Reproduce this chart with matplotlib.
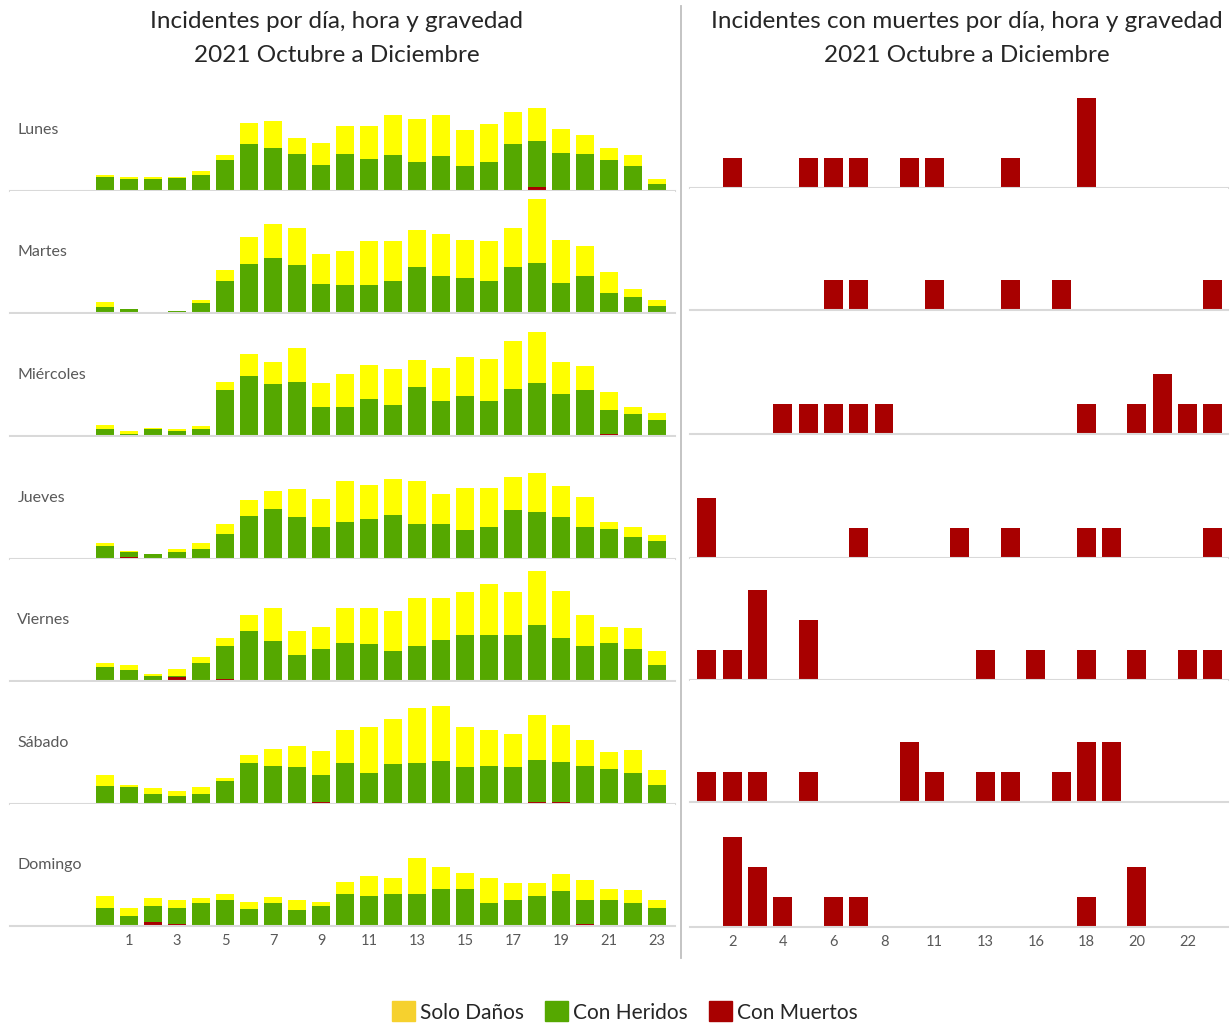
import numpy as np
import matplotlib
matplotlib.use("Agg")
import matplotlib.pyplot as plt
from matplotlib.patches import Patch
from matplotlib.lines import Line2D

plt.rcParams['font.family'] = ['Lato', 'DejaVu Sans']

# Data: counts per hour (0..23) and weekday
dias = ['Lunes', 'Martes', 'Miércoles', 'Jueves', 'Viernes', 'Sábado', 'Domingo']
horas = list(range(24))

solo_danos = {
    'Lunes':     [1, 2, 2, 1, 4, 4, 18, 22, 13, 18, 23, 27, 33, 36, 34, 30, 32, 27, 27, 20, 16, 10, 9, 4],
    'Martes':    [4, 0, 0, 0, 3, 9, 22, 28, 31, 25, 29, 37, 33, 31, 35, 32, 33, 33, 53, 36, 25, 17, 7, 5],
    'Miércoles': [3, 2, 1, 2, 2, 7, 18, 19, 28, 20, 28, 28, 30, 22, 28, 33, 35, 40, 43, 27, 20, 15, 6, 6],
    'Jueves':    [2, 1, 0, 2, 5, 8, 13, 15, 23, 23, 34, 29, 30, 36, 25, 35, 32, 27, 33, 26, 25, 6, 9, 5],
    'Viernes':   [3, 4, 2, 6, 5, 7, 13, 28, 20, 18, 29, 30, 33, 40, 35, 36, 43, 36, 45, 39, 26, 13, 17, 12],
    'Sábado':    [9, 2, 5, 4, 6, 3, 7, 14, 17, 20, 28, 38, 38, 46, 46, 33, 30, 27, 37, 31, 21, 14, 19, 12],
    'Domingo':   [10, 7, 6, 7, 4, 5, 6, 5, 9, 3, 10, 17, 13, 30, 18, 13, 21, 14, 11, 14, 16, 9, 11, 7],
}

con_heridos = {
    'Lunes':     [12, 10, 9, 11, 13, 25, 38, 35, 31, 21, 31, 26, 30, 24, 28, 21, 24, 39, 39, 32, 31, 26, 21, 6],
    'Martes':    [5, 3, 1, 2, 8, 27, 40, 45, 40, 24, 23, 22, 27, 38, 30, 29, 27, 37, 42, 25, 31, 17, 13, 5],
    'Miércoles': [6, 2, 6, 4, 5, 37, 49, 42, 44, 24, 24, 31, 26, 41, 29, 33, 29, 39, 43, 35, 37, 20, 17, 12],
    'Jueves':    [11, 4, 4, 6, 8, 21, 36, 41, 35, 27, 31, 33, 36, 29, 28, 24, 27, 41, 38, 34, 27, 25, 18, 14],
    'Viernes':   [12, 8, 3, 1, 15, 27, 42, 33, 22, 27, 32, 31, 25, 28, 34, 38, 37, 38, 46, 36, 28, 32, 26, 12],
    'Sábado':    [15, 13, 7, 6, 8, 18, 34, 32, 31, 22, 34, 25, 33, 33, 35, 31, 32, 30, 35, 33, 32, 29, 26, 16],
    'Domingo':   [15, 8, 14, 13, 18, 22, 13, 18, 13, 17, 27, 25, 27, 27, 31, 31, 19, 22, 24, 29, 20, 22, 19, 15],
}

con_muertos = {
    'Lunes':     [0, 0, 1, 0, 0, 1, 1, 1, 0, 1, 0, 1, 0, 0, 1, 0, 0, 0, 3, 0, 0, 0, 0, 0],
    'Martes':    [0, 0, 0, 0, 0, 0, 1, 1, 0, 0, 0, 1, 0, 0, 1, 0, 0, 1, 0, 0, 0, 0, 0, 1],
    'Miércoles': [0, 0, 0, 0, 1, 1, 1, 1, 1, 0, 0, 0, 0, 0, 0, 0, 0, 0, 1, 0, 1, 2, 1, 1],
    'Jueves':    [0, 2, 0, 0, 0, 0, 0, 1, 0, 0, 0, 0, 1, 0, 1, 0, 0, 0, 1, 1, 0, 0, 0, 1],
    'Viernes':   [0, 1, 1, 3, 0, 2, 0, 0, 0, 0, 0, 0, 0, 1, 0, 0, 1, 0, 1, 0, 1, 0, 1, 1],
    'Sábado':    [0, 1, 1, 1, 0, 1, 0, 0, 0, 2, 0, 1, 0, 1, 1, 0, 0, 1, 2, 2, 0, 0, 0, 0],
    'Domingo':   [0, 0, 3, 2, 1, 0, 1, 1, 0, 0, 0, 0, 0, 0, 0, 0, 0, 0, 1, 0, 2, 0, 0, 0],
}

AMARILLO = '#FFFF00'
VERDE = '#55A800'
ROJO = '#A80000'
AMARILLO_LEY = '#F6D12E'
GRIS_LINEA = '#D9D9D9'
GRIS_TEXTO = '#595959'

W, H = 1230, 1023
fig = plt.figure(figsize=(W / 100, H / 100), dpi=100)


def px_axes(x0, y_top, x1, y_bot):
    return fig.add_axes([x0 / W, 1 - y_bot / H, (x1 - x0) / W, (y_bot - y_top) / H])


def limpiar(ax):
    for s in ['top', 'right', 'left']:
        ax.spines[s].set_visible(False)
    ax.spines['bottom'].set_color(GRIS_LINEA)
    ax.spines['bottom'].set_linewidth(1.5)
    ax.set_yticks([])
    ax.tick_params(axis='x', length=0, labelsize=10.5, labelcolor=GRIS_TEXTO, pad=6)


# row baselines in pixels (left / right panels)
base_izq = [191, 313, 436, 559, 681, 804, 926]
base_der = [188, 310, 434, 558, 680, 802, 927]
alto = 122

# right panel categories: hours with at least one fatal incident
cats = [h for h in horas if any(con_muertos[d][h] > 0 for d in dias)]
xc = np.arange(len(cats))

for i, d in enumerate(dias):
    # Left: all incidents stacked by severity
    ax = px_axes(10, base_izq[i] - alto, 675, base_izq[i])
    m = np.array(con_muertos[d])
    h = np.array(con_heridos[d])
    s = np.array(solo_danos[d])
    ax.bar(horas, m, width=0.75, color=ROJO)
    ax.bar(horas, h, width=0.75, bottom=m, color=VERDE)
    ax.bar(horas, s, width=0.75, bottom=m + h, color=AMARILLO)
    ax.set_xlim(-3.96, 23.75)
    ax.set_ylim(0, alto / 1.2)
    limpiar(ax)
    ax.text(0.011, 0.5, d, transform=ax.transAxes, fontsize=11.5,
            color=GRIS_TEXTO, va='center', ha='left')
    if i == len(dias) - 1:
        ax.set_xticks(horas[1::2])
        ax.set_xticklabels([str(x) for x in horas[1::2]])
    else:
        ax.set_xticks([])

    # Right: fatal incidents only
    ax2 = px_axes(690, base_der[i] - alto, 1228, base_der[i])
    vals = [con_muertos[d][c] for c in cats]
    ax2.bar(xc, vals, width=0.75, color=ROJO)
    ax2.set_xlim(-0.67, 20.6)
    ax2.set_ylim(0, alto / 30)
    limpiar(ax2)
    if i == len(dias) - 1:
        ax2.set_xticks(xc[1::2])
        ax2.set_xticklabels([str(c) for c in cats[1::2]])
    else:
        ax2.set_xticks([])

fig.add_artist(Line2D([681 / W, 681 / W], [1 - 6 / H, 1 - 958 / H],
                      color='#BFBFBF', lw=1.3))

fig.text(337 / W, 1 - 22 / H, 'Incidentes por día, hora y gravedad',
         ha='center', va='center', fontsize=17.5, color='#262626')
fig.text(337 / W, 1 - 55 / H, '2021 Octubre a Diciembre',
         ha='center', va='center', fontsize=17.5, color='#262626')
fig.text(967 / W, 1 - 22 / H, 'Incidentes con muertes por día, hora y gravedad',
         ha='center', va='center', fontsize=17.5, color='#262626')
fig.text(967 / W, 1 - 55 / H, '2021 Octubre a Diciembre',
         ha='center', va='center', fontsize=17.5, color='#262626')

handles = [Patch(color=AMARILLO_LEY, label='Solo Daños'),
           Patch(color=VERDE, label='Con Heridos'),
           Patch(color=ROJO, label='Con Muertos')]
fig.legend(handles=handles, loc='center', bbox_to_anchor=(625 / W, 11 / H),
           ncol=3, frameon=False, fontsize=15, handlelength=1.1, handleheight=1.1,
           handletextpad=0.25, columnspacing=1.0, labelcolor='#262626')

fig.savefig('out.png', dpi=100)
